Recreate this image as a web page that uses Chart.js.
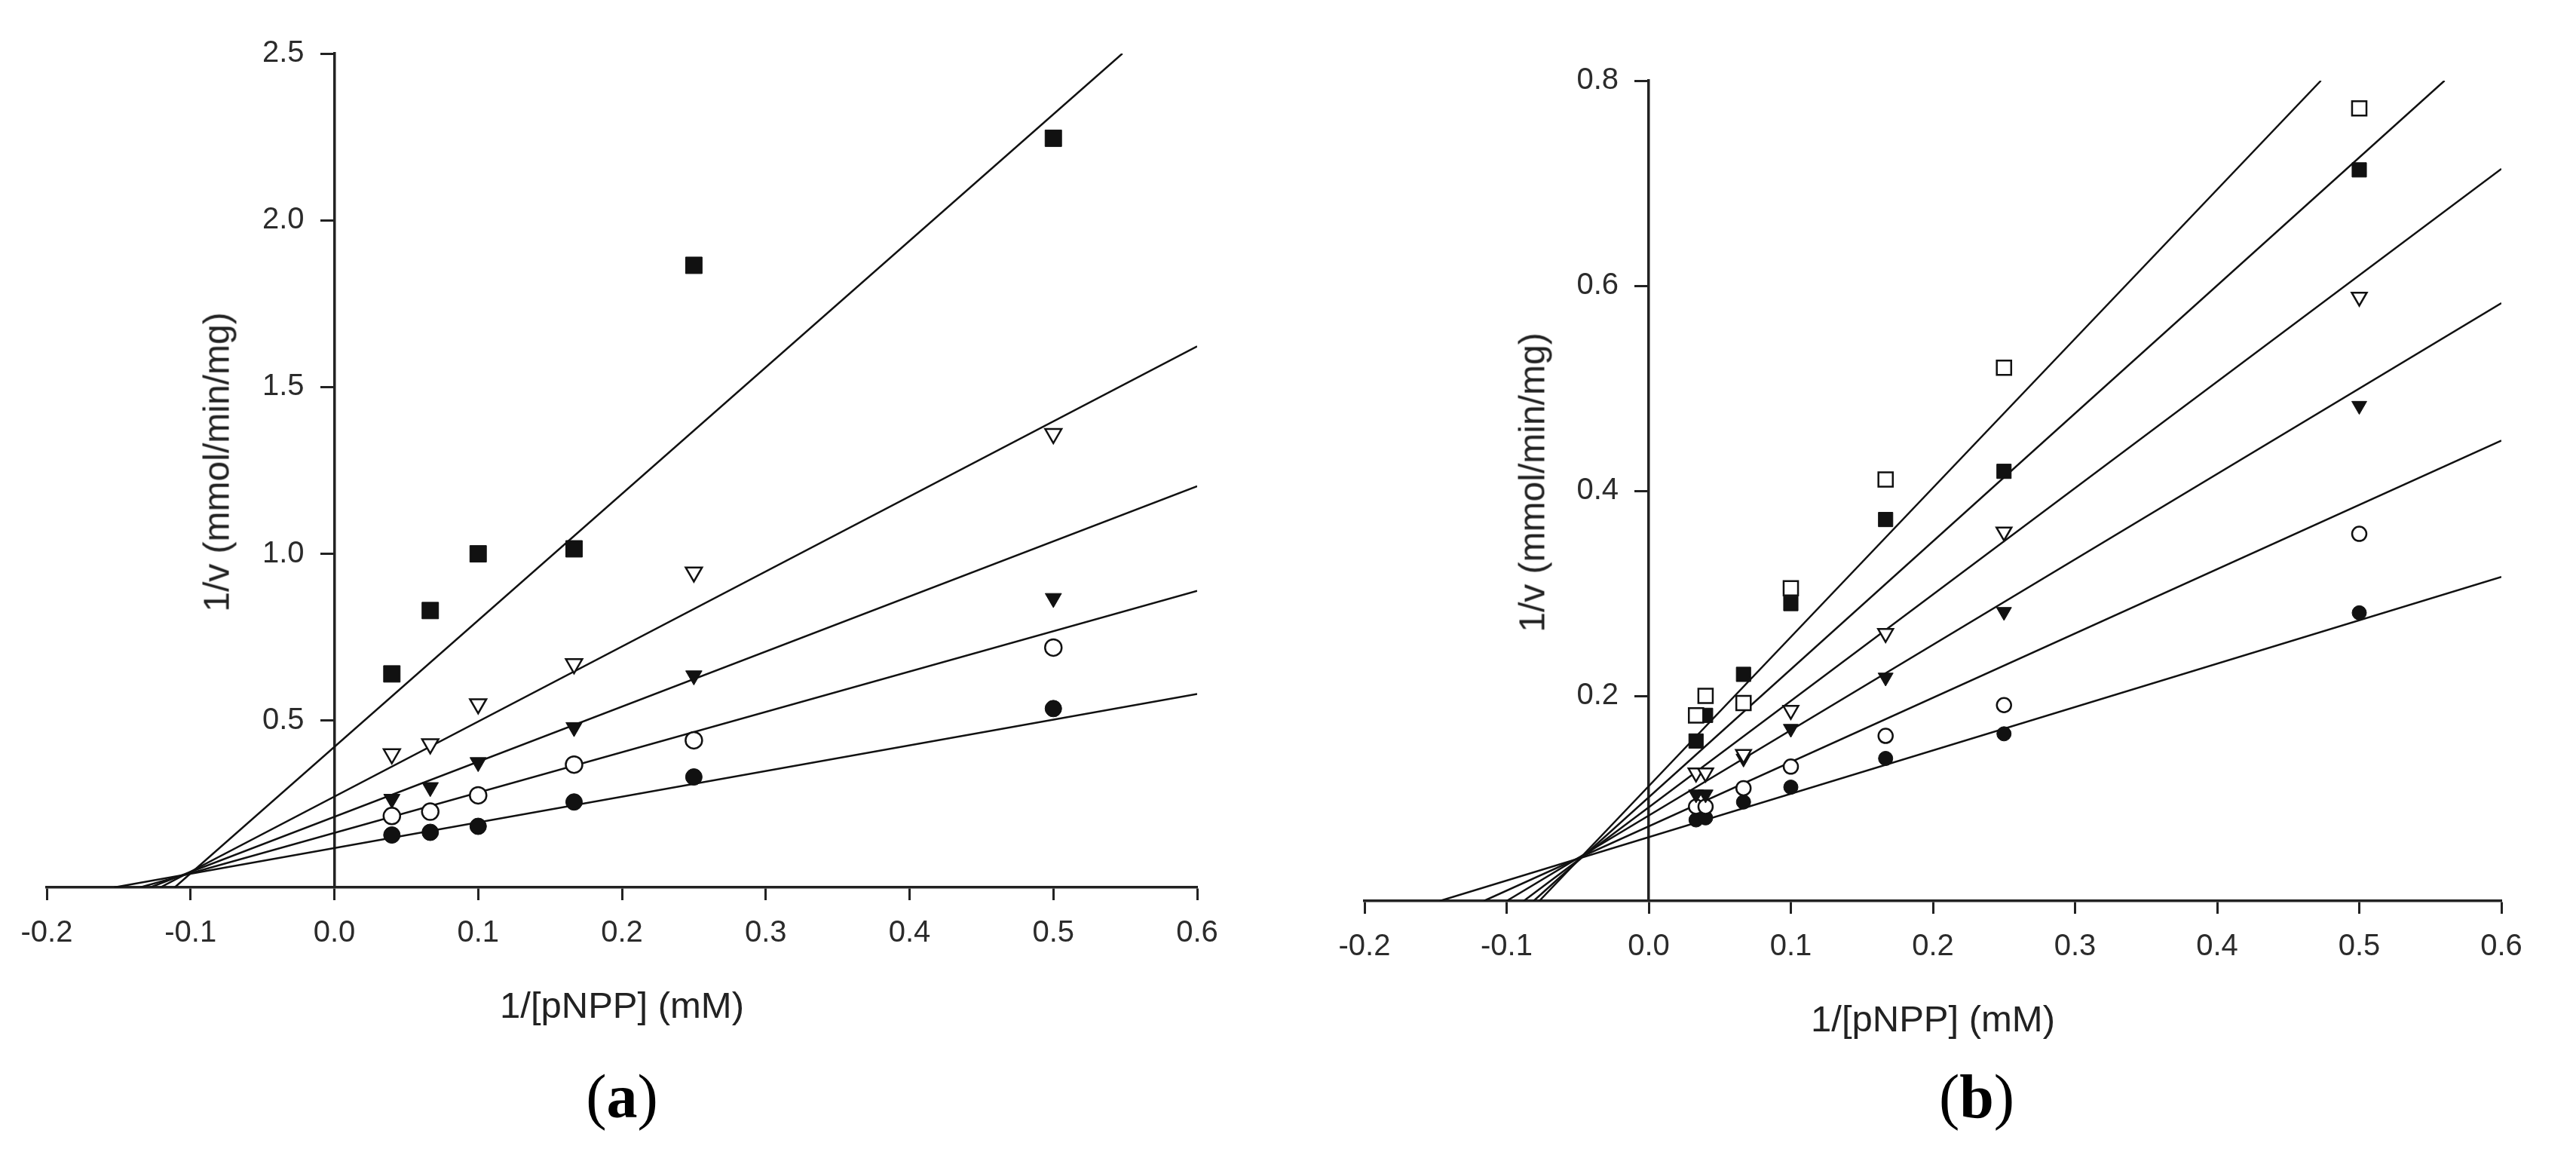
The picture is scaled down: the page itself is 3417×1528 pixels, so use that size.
<!DOCTYPE html>
<html>
<head>
<meta charset="utf-8">
<title>Lineweaver-Burk plots</title>
<script src="https://cdn.jsdelivr.net/npm/chart.js@4.4.1/dist/chart.umd.min.js"></script>
<style>
  html, body { margin: 0; padding: 0; background: #fff; }
  body { width: 3417px; height: 1528px; position: relative; overflow: hidden;
         font-family: "Liberation Sans", Arial, sans-serif; }
  .panel { position: absolute; top: 0; height: 1528px; }
  .ytitle { position: absolute; font-size: 48px; color: #222; white-space: nowrap;
            transform: translate(-50%, -50%) rotate(-90deg); }
  .caption { position: absolute; top: 1414px; font: 82px/82px "Liberation Serif", "Times New Roman", serif;
             color: #000; white-space: nowrap; transform: translateX(-50%); }
</style>
</head>
<body>

<div class="panel" style="left:0;width:1708px"><canvas id="chartA" width="1708" height="1528"></canvas></div>
<div class="panel" style="left:1708px;width:1709px"><canvas id="chartB" width="1709" height="1528"></canvas></div>

<div class="ytitle" style="left:287px;top:613px">1/v (mmol/min/mg)</div>
<div class="ytitle" style="left:2032px;top:640px">1/v (mmol/min/mg)</div>
<div class="caption" style="left:825px">(<b>a</b>)</div>
<div class="caption" style="left:2622px">(<b>b</b>)</div>

<script>
// ---- panel (a) ----
const xA = [0.04, 0.0667, 0.1, 0.1667, 0.25, 0.5];
const aFilledSquare   = [0.64, 0.83, 1.00, 1.015, 1.865, 2.246];
const aOpenTriangle   = [0.40, 0.43, 0.55, 0.67, 0.945, 1.36];
const aFilledTriangle = [0.265, 0.30, 0.375, 0.48, 0.635, 0.867];
const aOpenCircle     = [0.214, 0.227, 0.276, 0.368, 0.441, 0.719];
const aFilledCircle   = [0.157, 0.165, 0.183, 0.256, 0.331, 0.536];
// fitted lines: from where they meet the x axis to where they leave the frame
const aFitStartX = [-0.111, -0.121, -0.128, -0.135, -0.153];
const aFitEndX   = [0.548, 0.6, 0.6, 0.6, 0.6];
const aFitEndY   = [2.5, 1.622, 1.203, 0.889, 0.580];
const aYTicks = [0.5, 1.0, 1.5, 2.0, 2.5];

// ---- panel (b) ----
const xB = [0.0333, 0.04, 0.0667, 0.1, 0.1667, 0.25, 0.5];
const bOpenSquare     = [0.181, 0.200, 0.193, 0.305, 0.411, 0.520, 0.773];
const bFilledSquare   = [0.156, 0.181, 0.221, 0.290, 0.372, 0.419, 0.713];
const bOpenTriangle   = [0.125, 0.125, 0.143, 0.186, 0.261, 0.360, 0.589];
const bFilledTriangle = [0.104, 0.104, 0.139, 0.168, 0.218, 0.282, 0.483];
const bOpenCircle     = [0.092, 0.092, 0.110, 0.131, 0.161, 0.191, 0.358];
const bFilledCircle   = [0.079, 0.081, 0.0965, 0.111, 0.139, 0.163, 0.281];
const bFitStartX = [-0.077, -0.081, -0.088, -0.100, -0.116, -0.147];
const bFitEndX   = [0.473, 0.560, 0.6, 0.6, 0.6, 0.6];
const bFitEndY   = [0.8, 0.8, 0.714, 0.583, 0.449, 0.316];
const bYTicks = [0.2, 0.4, 0.6, 0.8];

const xTicks = [-0.2, -0.1, 0.0, 0.1, 0.2, 0.3, 0.4, 0.5, 0.6];

const ink = '#111';
const axisInk = '#222';
const labelInk = '#2b2b2b';

Chart.defaults.font.family = '"Liberation Sans", Arial, sans-serif';

function pts(xs, ys) {
  return xs.map((x, i) => ({x: x, y: ys[i]}));
}

// one marker series; sz holds the radius per marker shape for that panel
function markerSet(xs, ys, shape, filled, sz) {
  return {
    data: pts(xs, ys),
    showLine: false,
    order: 0,
    pointStyle: shape === 'tri' ? 'triangle' : shape,
    pointRotation: shape === 'tri' ? 180 : 0,
    pointRadius: sz[shape],
    pointHoverRadius: sz[shape],
    pointBackgroundColor: filled ? ink : '#fff',
    pointBorderColor: ink,
    pointBorderWidth: filled ? 1 : 2.5
  };
}

function fitLines(x0, x1, y1) {
  return x0.map((x, i) => ({
    data: [{x: x, y: 0}, {x: x1[i], y: y1[i]}],
    showLine: true,
    order: 1,
    borderColor: ink,
    borderWidth: 2.5,
    pointRadius: 0,
    fill: false
  }));
}

function drawPanel(id, datasets, yMax, yTicks, pad) {
  new Chart(document.getElementById(id), {
    type: 'scatter',
    data: {datasets: datasets},
    options: {
      responsive: false,
      animation: false,
      events: [],
      layout: {padding: pad},
      plugins: {legend: {display: false}, tooltip: {enabled: false}},
      scales: {
        x: {
          type: 'linear',
          position: 'bottom',
          min: -0.2,
          max: 0.6,
          afterBuildTicks: s => { s.ticks = xTicks.map(v => ({value: v})); },
          afterFit: s => { s.height = 189; },
          ticks: {
            color: labelInk,
            font: {size: 40},
            padding: 20,
            maxRotation: 0,
            autoSkip: false,
            callback: v => v.toFixed(1)
          },
          grid: {drawOnChartArea: false, drawTicks: true, tickLength: 17, tickWidth: 3, tickColor: axisInk},
          border: {display: true, color: axisInk, width: 3.5},
          title: {display: true, text: '1/[pNPP] (mM)', color: axisInk, font: {size: 49}, padding: 0}
        },
        y: {
          type: 'linear',
          // axis sits on x = 0, like the original
          position: {x: 0},
          min: 0,
          max: yMax,
          afterBuildTicks: s => { s.ticks = yTicks.map(v => ({value: v})); },
          ticks: {
            color: labelInk,
            font: {size: 40},
            autoSkip: false,
            // labels of a value-positioned axis hug the line, the em space keeps them clear of the ticks
            callback: v => v.toFixed(1) + '\u2003'
          },
          grid: {drawOnChartArea: false, drawTicks: true, tickLength: 17, tickWidth: 3, tickColor: axisInk},
          border: {display: true, color: axisInk, width: 3.5}
        }
      }
    }
  });
}

const sizeA = {rect: 15.5, tri: 12.5, circle: 11};
const sizeB = {rect: 13.5, tri: 11.5, circle: 9.5};

drawPanel('chartA', [
  markerSet(xA, aFilledSquare, 'rect', true, sizeA),
  markerSet(xA, aOpenTriangle, 'tri', false, sizeA),
  markerSet(xA, aFilledTriangle, 'tri', true, sizeA),
  markerSet(xA, aOpenCircle, 'circle', false, sizeA),
  markerSet(xA, aFilledCircle, 'circle', true, sizeA)
].concat(fitLines(aFitStartX, aFitEndX, aFitEndY)),
  2.5, aYTicks, {left: 62, right: 120, top: 71, bottom: 162});

drawPanel('chartB', [
  markerSet(xB, bOpenSquare, 'rect', false, sizeB),
  markerSet(xB, bFilledSquare, 'rect', true, sizeB),
  markerSet(xB, bOpenTriangle, 'tri', false, sizeB),
  markerSet(xB, bFilledTriangle, 'tri', true, sizeB),
  markerSet(xB, bOpenCircle, 'circle', false, sizeB),
  markerSet(xB, bFilledCircle, 'circle', true, sizeB)
].concat(fitLines(bFitStartX, bFitEndX, bFitEndY)),
  0.8, bYTicks, {left: 102, right: 99, top: 107, bottom: 144});
</script>
</body>
</html>
